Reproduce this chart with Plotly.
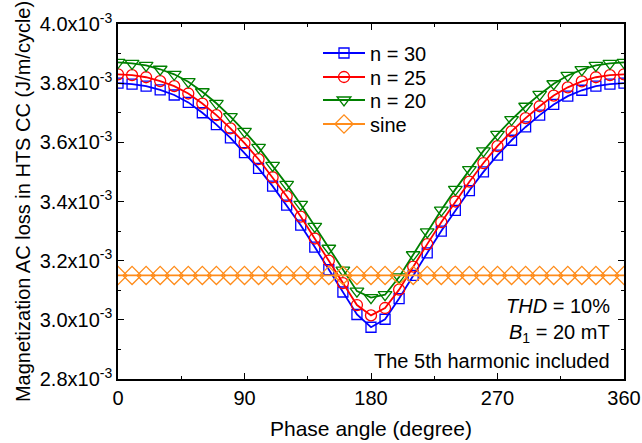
import plotly.graph_objects as go

# Phase angle (degree)
phase = list(range(0, 361, 10))

# Magnetization AC loss, in units of 1e-3 J/m/cycle
loss_n30 = [3.800, 3.797, 3.790, 3.777, 3.760, 3.735, 3.700, 3.660, 3.615, 3.565,
            3.512, 3.452, 3.388, 3.320, 3.246, 3.170, 3.094, 3.018, 2.975,
            3.002, 3.072, 3.150, 3.226, 3.300, 3.370, 3.437, 3.500, 3.557, 3.607,
            3.652, 3.692, 3.728, 3.756, 3.776, 3.790, 3.797, 3.800]
loss_n25 = [3.830, 3.827, 3.820, 3.807, 3.790, 3.765, 3.731, 3.692, 3.647, 3.597,
            3.543, 3.482, 3.418, 3.349, 3.275, 3.200, 3.124, 3.050, 3.015,
            3.040, 3.102, 3.180, 3.256, 3.330, 3.400, 3.467, 3.530, 3.587, 3.637,
            3.682, 3.722, 3.758, 3.786, 3.806, 3.820, 3.827, 3.830]
loss_n20 = [3.870, 3.867, 3.860, 3.847, 3.830, 3.805, 3.771, 3.732, 3.687, 3.637,
            3.583, 3.522, 3.458, 3.390, 3.316, 3.242, 3.168, 3.097, 3.075,
            3.085, 3.145, 3.220, 3.297, 3.371, 3.441, 3.508, 3.571, 3.627, 3.677,
            3.722, 3.762, 3.798, 3.826, 3.846, 3.860, 3.867, 3.870]
loss_sine = [3.15] * len(phase)

y_ticks = [2.8, 3.0, 3.2, 3.4, 3.6, 3.8, 4.0]
y_ticklabels = ["%.1fx10<sup>-3</sup>" % v for v in y_ticks]
x_ticks = [0, 90, 180, 270, 360]

FONT = "Liberation Sans, Arial, sans-serif"

series = [
    ("n = 30", loss_n30, "#0000FF", "square-open", 10),
    ("n = 25", loss_n25, "#FF0000", "circle-open", 11),
    ("n = 20", loss_n20, "#008000", "triangle-down-open", 12),
    ("sine", loss_sine, "#FF8C1A", "diamond-open", 14),
]
legend_ids = ["legend", "legend2", "legend3", "legend4"]
legend_rows_px = [53, 77, 100, 124]   # vertical centres of legend rows (px from top)

PLOT_TOP, PLOT_BOTTOM = 24, 379
PLOT_LEFT, PLOT_RIGHT = 118, 624

fig = go.Figure()
for (name, ys, color, sym, size), lid in zip(series, legend_ids):
    fig.add_trace(go.Scatter(
        x=phase, y=[v * 1e-3 for v in ys], name=name, mode="lines+markers",
        line=dict(color=color, width=1.8),
        marker=dict(symbol=sym, size=size, color=color, line=dict(width=1.3, color=color)),
        legend=lid,
    ))

axis_common = dict(
    showline=True, linecolor="black", linewidth=1.5, mirror="ticks",
    ticks="inside", tickcolor="black", ticklen=6, tickwidth=1.2,
    showgrid=False, zeroline=False, automargin=False,
    tickfont=dict(family=FONT, size=20, color="black"),
    ticklabeloverflow="allow",
)

fig.update_xaxes(
    range=[0, 360], tickvals=x_ticks,
    minor=dict(dtick=45, tick0=0, ticks="inside", ticklen=3, tickcolor="black", tickwidth=1.2),
    title=dict(text="Phase angle (degree)", font=dict(family=FONT, size=21, color="black"), standoff=14),
    **axis_common,
)
fig.update_yaxes(
    range=[2.8e-3, 4.0e-3], tickvals=[v * 1e-3 for v in y_ticks], ticktext=y_ticklabels,
    minor=dict(dtick=0.1e-3, tick0=2.8e-3, ticks="inside", ticklen=3, tickcolor="black", tickwidth=1.2),
    title=dict(text="Magnetization AC loss in HTS CC (J/m/cycle)",
               font=dict(family=FONT, size=20, color="black"), standoff=4),
    **axis_common,
)

ann_font = dict(family=FONT, size=20, color="black")
for txt, ypx in [("<i>THD</i> = 10%", 306), ("<i>B</i><sub>1</sub> = 20 mT", 333),
                 ("The 5th harmonic included", 361)]:
    fig.add_annotation(x=(612 - PLOT_LEFT) / (PLOT_RIGHT - PLOT_LEFT),
                       y=(PLOT_BOTTOM - ypx) / (PLOT_BOTTOM - PLOT_TOP),
                       xref="paper", yref="paper", xanchor="right", yanchor="middle",
                       text=txt, showarrow=False, font=ann_font)

layout_legends = {}
for lid, ypx in zip(legend_ids, legend_rows_px):
    layout_legends[lid] = dict(
        x=(318 - PLOT_LEFT) / (PLOT_RIGHT - PLOT_LEFT),
        y=(PLOT_BOTTOM - ypx) / (PLOT_BOTTOM - PLOT_TOP),
        xanchor="left", yanchor="middle",
        bgcolor="rgba(0,0,0,0)", borderwidth=0,
        font=dict(family=FONT, size=20, color="black"),
        itemwidth=42, itemsizing="trace",
    )

fig.update_layout(
    width=642, height=443,
    margin=dict(l=PLOT_LEFT, r=642 - PLOT_RIGHT, t=PLOT_TOP, b=443 - PLOT_BOTTOM, autoexpand=False),
    paper_bgcolor="white", plot_bgcolor="white",
    showlegend=True,
    **layout_legends,
)

fig.write_html("out.html")
